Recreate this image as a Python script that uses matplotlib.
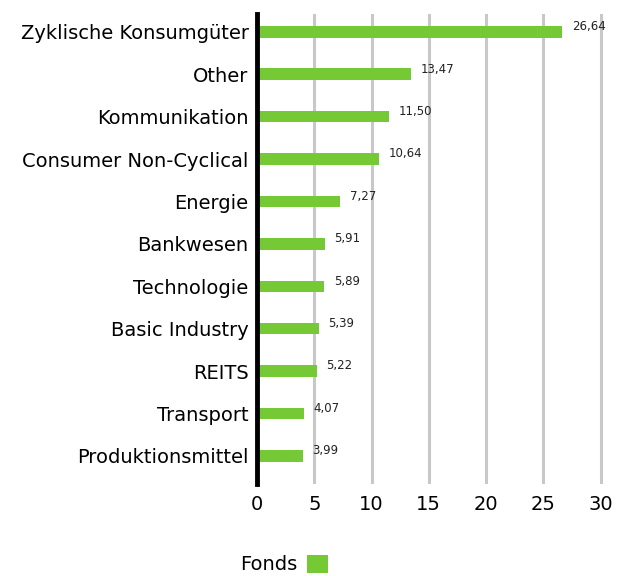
import matplotlib.pyplot as plt
from matplotlib.patches import Patch

categories = ["Zyklische Konsumgüter", "Other", "Kommunikation", "Consumer Non-Cyclical",
              "Energie", "Bankwesen", "Technologie", "Basic Industry", "REITS",
              "Transport", "Produktionsmittel"]
fonds = [26.64, 13.47, 11.50, 10.64, 7.27, 5.91, 5.89, 5.39, 5.22, 4.07, 3.99]
xticks = [0, 5, 10, 15, 20, 25, 30]

green = "#74c935"

fig = plt.figure(figsize=(6.17, 5.76), dpi=100)
ax = fig.add_axes([0.4165, 0.160, 0.5625, 0.8157])

pos = list(range(len(categories)))
ax.barh(pos, fonds, height=0.27, color=green, zorder=3)
for p, v in zip(pos, fonds):
    ax.text(v + 0.85, p - 0.12, f"{v:.2f}".replace(".", ","), fontsize=8.5,
            va="center", ha="left", color="#222222")

ax.set_ylim(10.66, -0.42)
ax.set_xlim(0, 30.3)
ax.set_xticks(xticks)
ax.set_xticklabels([str(t) for t in xticks], fontsize=14)
ax.set_yticks(pos)
ax.set_yticklabels(categories, fontsize=14)
ax.tick_params(length=0, pad=6)
ax.tick_params(axis="x", pad=8)

ax.grid(axis="x", color="#c8c8c8", linewidth=2.2, zorder=0)
for s in ["top", "right", "bottom"]:
    ax.spines[s].set_visible(False)
ax.spines["left"].set_linewidth(3.5)
ax.spines["left"].set_color("black")
ax.spines["left"].set_zorder(4)

handle = Patch(facecolor=green, label="Fonds")
fig.legend(handles=[handle], loc="center", bbox_to_anchor=(0.46, 0.02),
           frameon=False, fontsize=14, markerfirst=False, handlelength=1.1,
           handleheight=1.1, handletextpad=0.5)

fig.savefig("out.png", dpi=100)
